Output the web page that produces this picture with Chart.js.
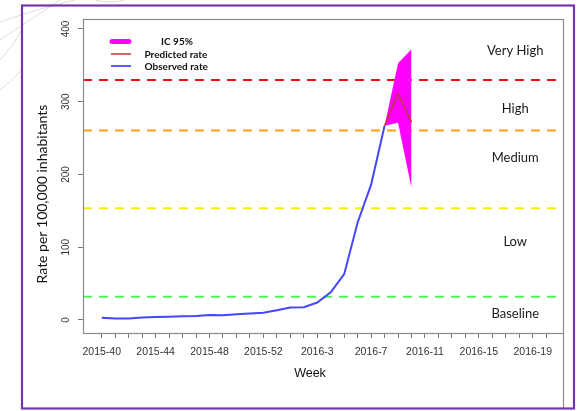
<!DOCTYPE html>
<html>
<head>
<meta charset="utf-8">
<script src="https://cdn.jsdelivr.net/npm/chart.js@4/dist/chart.umd.min.js"></script>
<style>
html,body{margin:0;padding:0;background:#fff;}
#wrap{position:relative;width:577px;height:411px;}
canvas{display:block;}
</style>
</head>
<body>
<div id="wrap"><canvas id="c" width="577" height="411"></canvas></div>
<script>
// ---- data ----
const weekLabels = [
  '2015-40','2015-41','2015-42','2015-43','2015-44','2015-45','2015-46','2015-47',
  '2015-48','2015-49','2015-50','2015-51','2015-52','2015-53',
  '2016-1','2016-2','2016-3','2016-4','2016-5','2016-6','2016-7','2016-8','2016-9',
  '2016-10','2016-11','2016-12','2016-13','2016-14','2016-15','2016-16','2016-17',
  '2016-18','2016-19','2016-20'
];
// observed weekly rate, from 2015-40 to 2016-8
const observedRate = [3, 2, 2, 3.5, 4, 4.5, 5, 5.5, 7, 6.5, 8, 9, 10, 13.5,
  17, 17.5, 24, 38, 63, 134, 186, 267];
const predictedWeeks = ['2016-8', '2016-9', '2016-10'];
const predictedRate = [267, 311, 272];
const icUpper = [267, 353, 372];
const icLower = [267, 271, 181];
const thresholdValues = [32, 153.5, 260.5, 330];
const thresholdNames = ['Baseline threshold', 'Low threshold', 'Medium threshold', 'High threshold'];
const zoneLabels = ['Baseline', 'Low', 'Medium', 'High', 'Very High'];
const yTickValues = [0, 100, 200, 300, 400];

// ---- scale limits & styles ----
const X_MIN = -1.39, X_MAX = 34.32, Y_MIN = -17.9, Y_MAX = 413.7;
const thresholdColors = ['#55ee55', '#f2f200', '#ffa010', '#f01010'];
const zoneLabelY = [8, 107, 222.5, 290, 370];
const zoneLabelX = 30.7;

const idx = w => weekLabels.indexOf(w);
const pts = (weeks, vals) => weeks.map((w, i) => ({x: idx(w), y: vals[i]}));

const datasets = [];
datasets.push({label: 'IC 95% upper', data: pts(predictedWeeks, icUpper), borderWidth: 0,
  pointRadius: 0, fill: '+1', backgroundColor: '#ff00ff', borderColor: '#ff00ff', order: 5});
datasets.push({label: 'IC 95% lower', data: pts(predictedWeeks, icLower), borderWidth: 0,
  pointRadius: 0, fill: false, borderColor: '#ff00ff', order: 5});
thresholdValues.forEach((t, i) => {
  datasets.push({label: thresholdNames[i], data: [{x: X_MIN, y: t}, {x: X_MAX, y: t}],
    borderColor: thresholdColors[i], borderWidth: 2, borderDash: [9, 7], pointRadius: 0,
    fill: false, order: 10});
});
datasets.push({label: 'Predicted rate', data: pts(predictedWeeks, predictedRate),
  borderColor: '#b83a3a', borderWidth: 1.5, pointRadius: 0, fill: false, order: 2});
datasets.push({label: 'Observed rate', data: observedRate.map((v, i) => ({x: i, y: v})),
  borderColor: '#4646ff', borderWidth: 2, pointRadius: 0, fill: false, order: 1});

const decor = {
  id: 'decor',
  beforeDraw(chart) {
    const ctx = chart.ctx;
    ctx.save();
    ctx.fillStyle = '#fff';
    ctx.fillRect(0, 0, chart.width, chart.height);
    ctx.strokeStyle = '#dcdcdc';
    ctx.lineWidth = 1;
    const lines = [[0,22,40,8,75,0],[0,40,30,20,60,0],[0,60,12,48,22,30],[95,0,110,4,125,0],[0,90,10,82,22,70]];
    lines.forEach(l => { ctx.beginPath(); ctx.moveTo(l[0], l[1]); ctx.quadraticCurveTo(l[2], l[3], l[4], l[5]); ctx.stroke(); });
    ctx.restore();
  },
  afterDraw(chart) {
    const ctx = chart.ctx, ca = chart.chartArea;
    const xs = chart.scales.x, ys = chart.scales.y;
    ctx.save();
    // plot box
    ctx.strokeStyle = '#8a8a8a';
    ctx.lineWidth = 1.2;
    ctx.strokeRect(ca.left + 0.5, ca.top + 0.5, ca.right - ca.left - 1, ca.bottom - ca.top);
    ctx.beginPath(); ctx.moveTo(ca.right - 0.5, ca.bottom); ctx.lineTo(ca.right - 0.5, 408); ctx.stroke();
    // axis titles
    ctx.fillStyle = '#111';
    ctx.textAlign = 'center'; ctx.textBaseline = 'middle';
    ctx.font = '12.5px "Liberation Sans", Arial, sans-serif';
    ctx.fillText('Week', 310, 374);
    ctx.save();
    ctx.translate(42, 194);
    ctx.rotate(-Math.PI / 2);
    ctx.font = '14px Lato, "Open Sans", sans-serif';
    ctx.fillText('Rate per 100,000 inhabitants', 0, 0);
    ctx.restore();
    // zone labels
    ctx.font = '13px Lato, "Open Sans", sans-serif';
    ctx.fillStyle = '#1a1a1a';
    zoneLabels.forEach((z, i) => {
      ctx.fillText(z, xs.getPixelForValue(zoneLabelX), ys.getPixelForValue(zoneLabelY[i]));
    });
    // legend
    ctx.lineCap = 'round';
    ctx.strokeStyle = '#ff00ff'; ctx.lineWidth = 5;
    ctx.beginPath(); ctx.moveTo(112, 41.5); ctx.lineTo(129, 41.5); ctx.stroke();
    ctx.lineCap = 'butt';
    ctx.strokeStyle = '#c86a6a'; ctx.lineWidth = 2;
    ctx.beginPath(); ctx.moveTo(111, 54); ctx.lineTo(131, 54); ctx.stroke();
    ctx.strokeStyle = '#5a5aff';
    ctx.beginPath(); ctx.moveTo(111, 66); ctx.lineTo(131, 66); ctx.stroke();
    ctx.fillStyle = '#111';
    ctx.font = 'bold 10px Lato, "Open Sans", sans-serif';
    ctx.textAlign = 'center';
    ctx.fillText('IC 95%', 177, 41.5);
    ctx.textAlign = 'left';
    ctx.fillText('Predicted rate', 144.5, 54.5);
    ctx.fillText('Observed rate', 144.5, 67);
    // purple frame
    ctx.strokeStyle = '#7334b0';
    ctx.lineWidth = 2.2;
    ctx.strokeRect(22, 5.5, 552, 403);
    ctx.restore();
  }
};

new Chart(document.getElementById('c'), {
  type: 'line',
  data: {datasets},
  options: {
    responsive: false,
    animation: false,
    devicePixelRatio: 1,
    layout: {padding: {left: 0, top: 19, right: 13, bottom: 0}},
    elements: {line: {tension: 0}},
    plugins: {legend: {display: false}, tooltip: {enabled: false}},
    scales: {
      x: {
        type: 'linear', min: X_MIN, max: X_MAX,
        border: {display: false},
        grid: {drawOnChartArea: false, drawTicks: true, tickLength: 5, color: '#777', lineWidth: 1},
        afterBuildTicks: s => { s.ticks = weekLabels.map((w, i) => ({value: i})); },
        ticks: {
          autoSkip: false, maxRotation: 0, minRotation: 0,
          padding: 8, color: '#333',
          font: {family: '"Liberation Sans", Arial, sans-serif', size: 10.5},
          callback: (v, i) => (i % 4 === 0 ? weekLabels[i] : '')
        },
        afterFit: s => { s.height = 78; }
      },
      y: {
        type: 'linear', min: Y_MIN, max: Y_MAX,
        border: {display: false},
        grid: {drawOnChartArea: false, drawTicks: true, tickLength: 5, color: '#777', lineWidth: 1},
        afterBuildTicks: s => { s.ticks = yTickValues.map(v => ({value: v})); },
        ticks: {
          minRotation: 90, maxRotation: 90,
          crossAlign: 'center', padding: 3, color: '#333',
          font: {family: '"Liberation Sans", Arial, sans-serif', size: 10}
        },
        afterFit: s => { s.width = 83; }
      }
    }
  },
  plugins: [decor]
});
</script>
</body>
</html>
